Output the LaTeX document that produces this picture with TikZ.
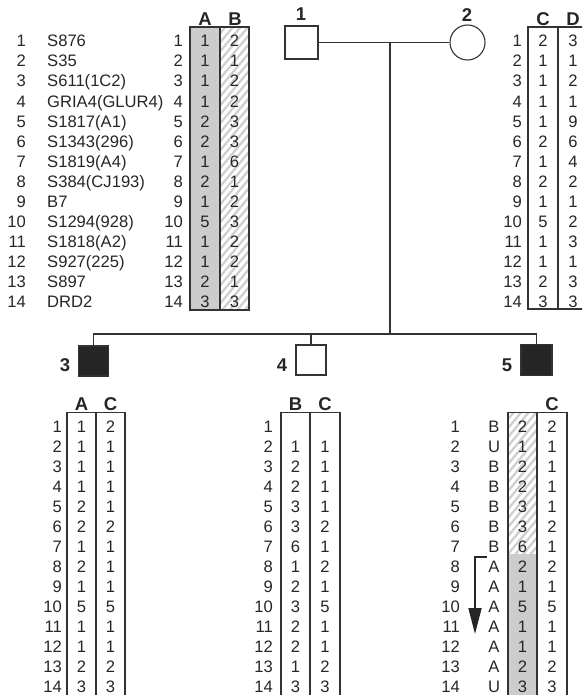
\documentclass[tikz,border=0pt]{standalone}
\usepackage{fontspec}
\setmainfont{Liberation Sans}
\usetikzlibrary{arrows.meta}
\newcommand\hatchcol[4]{%
  \begin{scope}
    \clip (#1,#2) rectangle (#3,#4);
    \foreach \k in {0,9,...,340} \draw[hatchline] (#1-2,#2+\k) -- ++(36,-43);
  \end{scope}}
\begin{document}
\begin{tikzpicture}[x=1pt,y=-1pt,
  txt/.style={inner sep=0pt, text height=11.8pt, text depth=0pt, font=\fontsize{16.6}{18}\selectfont, text=black!85},
  hdr/.style={inner sep=0pt, text height=13.2pt, text depth=0pt, font=\fontsize{18.5}{20}\selectfont\bfseries, text=black!85},
  boxline/.style={line width=1.1pt, draw=black!80},
  ped/.style={line width=1.1pt, draw=black!80},
  hatchline/.style={line width=2.3pt, draw=gray!38},
  shade/.style={fill=gray!40},
  sym/.style={draw=black!80, line width=1.1pt, inner sep=0pt}]
\useasboundingbox (0,0) rectangle (582,695);
\clip (0,0) rectangle (582,695);

% ---------- top-left marker list and haplotypes A/B ----------
\fill[shade] (190,27) rectangle (220,310);
\hatchcol{220}{27}{249}{310}
\draw[boxline] (190,27) rectangle (249,310);
\draw[boxline] (220,27) -- (220,310);
\node[hdr] (hA) at (205,18.5) {A};
\node[hdr] (hB) at (235,18.5) {B};
\foreach \n/\a/\b [count=\i] in {S876/1/2, S35/1/1, S611(1C2)/1/2, GRIA4(GLUR4)/1/2,
  S1817(A1)/2/3, S1343(296)/2/3, S1819(A4)/1/6, S384(CJ193)/2/1, B7/1/2,
  S1294(928)/5/3, S1818(A2)/1/2, S927(225)/1/2, S897/2/1, DRD2/3/3}{
  \pgfmathsetmacro\yy{41+(\i-1)*20.05}
  \node[txt, anchor=east] (ln\i) at (26,\yy) {\i};
  \node[txt, anchor=west] (nm\i) at (47,\yy) {\n};
  \node[txt, anchor=east] (rn\i) at (183,\yy) {\i};
  \node[txt] (va\i) at (205,\yy) {\a};
  \node[txt] (vb\i) at (234.5,\yy) {\b};
}

% ---------- top-right haplotypes C/D ----------
\draw[boxline] (588,27) -- (528,27) -- (528,309) -- (588,309);
\draw[boxline] (558,27) -- (558,309);
\node[hdr] (hC) at (543,18.5) {C};
\node[hdr] (hD) at (573,18.5) {D};
\foreach \c/\d [count=\i] in {2/3,1/1,1/2,1/1,1/9,2/6,1/4,2/2,1/1,5/2,1/3,1/1,2/3,3/3}{
  \pgfmathsetmacro\yy{41+(\i-1)*20.05}
  \node[txt, anchor=east] (cn\i) at (522,\yy) {\i};
  \node[txt] (vc\i) at (543,\yy) {\c};
  \node[txt] (vd\i) at (573,\yy) {\d};
}

% ---------- pedigree ----------
\node[sym, minimum size=33pt] (p1) at (301.5,42.5) {};
\node[sym, circle, minimum size=35pt] (p2) at (467.5,42.5) {};
\node[hdr] (l1) at (301,14) {1};
\node[hdr] (l2) at (467,15) {2};
\coordinate (m) at (390,42.5);
\coordinate (s) at (390,334);
\coordinate (s4) at (311,334);
\draw[ped] (p1.east) -- (p2.west);
\draw[ped] (m) -- (s);
\node[sym, fill=black!85, minimum size=30pt] (c3) at (93.5,361) {};
\node[sym, minimum size=30pt] (c4) at (311,360) {};
\node[sym, fill=black!85, minimum size=31pt] (c5) at (536.5,360) {};
\draw[ped] (c3.north) |- (s) -| (c5.north);
\draw[ped] (s4) -- (c4.north);
\node[hdr] (l3) at (65,365) {3};
\node[hdr] (l4) at (282,365) {4};
\node[hdr] (l5) at (507,365) {5};

% ---------- child 3 ----------
\draw[boxline] (67,412.5) rectangle (125,720);
\draw[boxline] (96,412.5) -- (96,720);
\node[hdr] (h3a) at (81.5,404) {A};
\node[hdr] (h3c) at (110.5,404) {C};
\foreach \a/\c [count=\i] in {1/2,1/1,1/1,1/1,2/1,2/2,1/1,2/1,1/1,5/5,1/1,1/1,2/2,3/3}{
  \pgfmathsetmacro\yy{426.5+(\i-1)*20.0}
  \node[txt, anchor=east] (k3n\i) at (62,\yy) {\i};
  \node[txt] (k3a\i) at (81.5,\yy) {\a};
  \node[txt] (k3c\i) at (110.5,\yy) {\c};
}

% ---------- child 4 ----------
\draw[boxline] (281,412.5) rectangle (340,720);
\draw[boxline] (310,412.5) -- (310,720);
\node[hdr] (h4b) at (295.5,404) {B};
\node[hdr] (h4c) at (325,404) {C};
\foreach \b/\c [count=\i] in {{}/{},1/1,2/1,2/1,3/1,3/2,6/1,1/2,2/1,3/5,2/1,2/1,1/2,3/3}{
  \pgfmathsetmacro\yy{426.5+(\i-1)*20.0}
  \node[txt, anchor=east] (k4n\i) at (273,\yy) {\i};
  \node[txt] (k4b\i) at (295.5,\yy) {\b};
  \node[txt] (k4c\i) at (325,\yy) {\c};
}

% ---------- child 5 ----------
\fill[shade] (508,554) rectangle (537,720);
\hatchcol{508}{412.5}{537}{554}
\draw[boxline] (508,412.5) rectangle (567,720);
\draw[boxline] (537,412.5) -- (537,720);
\node[hdr] (h5c) at (552,404) {C};
\foreach \l/\h/\c [count=\i] in {B/2/2,U/1/1,B/2/1,B/2/1,B/3/1,B/3/2,B/6/1,A/2/2,A/1/1,A/5/5,A/1/1,A/1/1,A/2/2,U/3/3}{
  \pgfmathsetmacro\yy{426.5+(\i-1)*20.0}
  \node[txt, anchor=east] (k5n\i) at (460,\yy) {\i};
  \node[txt] (k5l\i) at (494,\yy) {\l};
  \node[txt] (k5h\i) at (522.5,\yy) {\h};
  \node[txt] (k5c\i) at (552,\yy) {\c};
}
\coordinate (a0) at (487,557);
\coordinate (a1) at (475,557);
\coordinate (a2) at (475,634);
\draw[line width=1.8pt, draw=black!85, -{Triangle[width=13pt,length=26pt]}] (a0) -- (a1) -- (a2);
\end{tikzpicture}
\end{document}
